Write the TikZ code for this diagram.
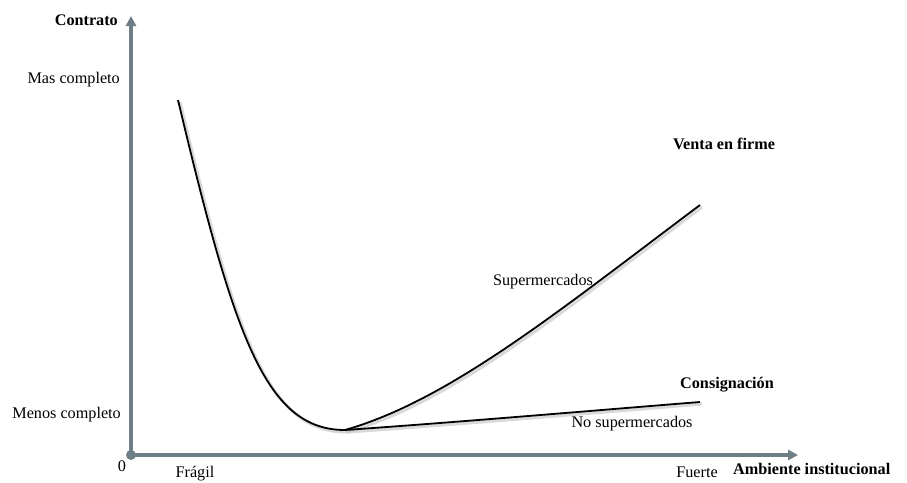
\documentclass[tikz,border=0pt]{standalone}
\usepackage{fontspec}
\setmainfont{Liberation Serif}
\usetikzlibrary{arrows.meta}
\definecolor{axisgrey}{HTML}{6E7E86}
\tikzset{
  axis/.style={draw=axisgrey, line width=3.4pt, -{Triangle[length=10pt,width=10pt]}},
  lbl/.style={font=\fontsize{16.2}{18}\selectfont, inner sep=0pt},
  blbl/.style={font=\fontsize{16.2}{18}\selectfont\bfseries, inner sep=0pt},
  curve/.style={line width=1.8pt, black},
  shade/.style={line width=3.2pt, black!25, opacity=0.6}
}
\begin{document}
\begin{tikzpicture}[x=1pt,y=-1pt]
\useasboundingbox (0,0) rectangle (907,482);
\coordinate (O) at (131,455);
\coordinate (ytop) at (131,16);
\coordinate (xend) at (798,455);
\coordinate (start) at (178,100);
\coordinate (min) at (345,430);
\coordinate (vf) at (700,205);
\coordinate (cs) at (700,402);
% shadows
\draw[shade] ([shift={(2,2)}]start) .. controls ([shift={(2,2)}]234,335) and ([shift={(2,2)}]265,430) .. ([shift={(2,2)}]min);
\draw[shade] ([shift={(2,2)}]min) .. controls ([shift={(2,2)}]450,400) and ([shift={(2,2)}]560,310) .. ([shift={(2,2)}]vf);
\draw[shade] ([shift={(2,2)}]min) .. controls ([shift={(2,2)}]460,422) and ([shift={(2,2)}]600,410) .. ([shift={(2,2)}]cs);
% axes
\draw[axis] (O) -- (ytop);
\draw[axis] (O) -- (xend);
\fill[axisgrey] (O) circle (5pt);
% curves
\draw[curve] (start) .. controls (234,335) and (265,430) .. (min);
\draw[curve] (min) .. controls (450,400) and (560,310) .. (vf);
\draw[curve] (min) .. controls (460,422) and (600,410) .. (cs);
% labels
\node[blbl, anchor=east] (contrato) at (118,20) {Contrato};
\node[lbl, anchor=east] (mas) at (120,80) {Mas completo};
\node[lbl, anchor=east] (menos) at (121,415) {Menos completo};
\node[lbl] (cero) at (122,466) {0};
\node[lbl] (fragil) at (195,474) {Frágil};
\node[lbl] (fuerte) at (697,472) {Fuerte};
\node[blbl, anchor=west] (amb) at (733,469) {Ambiente institucional};
\node[blbl] (venta) at (724,144) {Venta en firme};
\node[lbl] (super) at (543,282) {Supermercados};
\node[blbl] (consig) at (727,385) {Consignación};
\node[lbl] (nosuper) at (632,424) {No supermercados};
\end{tikzpicture}
\end{document}
